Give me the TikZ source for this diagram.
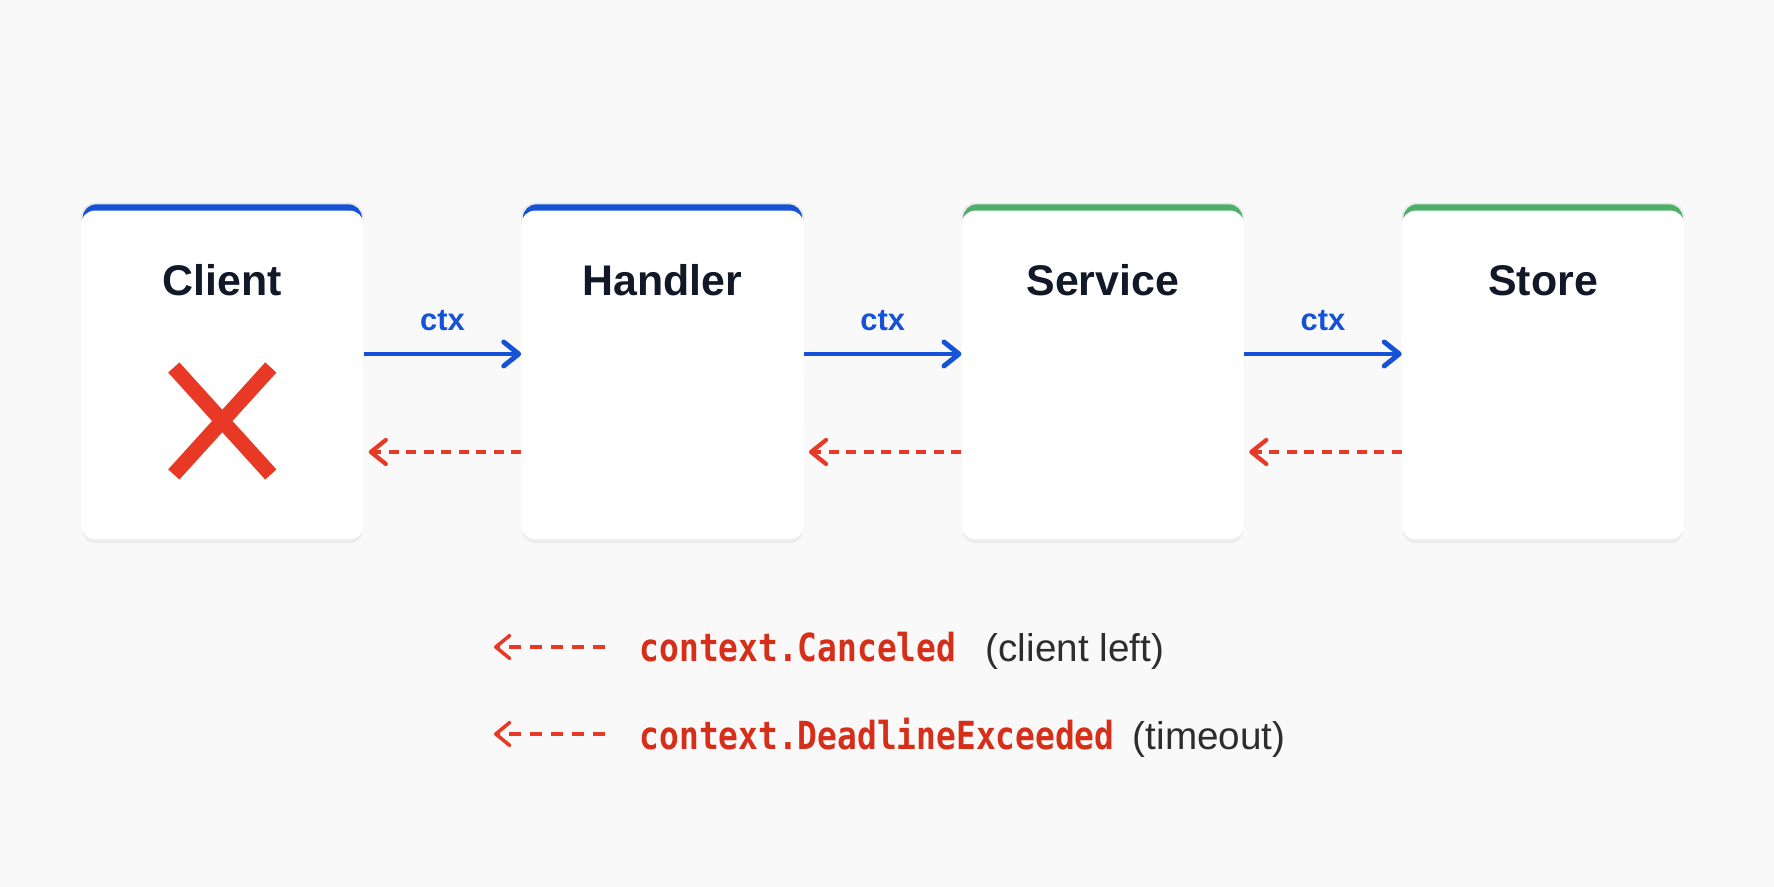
\documentclass[tikz,border=0pt]{standalone}
\usepackage{fontspec}
\setmainfont{Liberation Sans}
\newfontfamily\codefont[FakeStretch=0.85]{DejaVu Sans Mono}
\usepackage{tikz}
\usetikzlibrary{arrows.meta,positioning,shadows,calc}
\definecolor{ctxblue}{RGB}{22,82,214}
\definecolor{okgreen}{RGB}{78,176,104}
\definecolor{cancelred}{RGB}{232,56,38}
\definecolor{codered}{RGB}{214,46,24}
\definecolor{ink}{RGB}{17,24,39}
\definecolor{notegray}{RGB}{45,45,45}
\definecolor{paper}{RGB}{249,249,249}
\tikzset{
  card/.style={fill=#1,draw=black!9,line width=0.5pt,rounded corners=1.4mm,
               minimum width=2.81cm,minimum height=3.35cm,inner sep=0pt,
               drop shadow={shadow xshift=0pt,shadow yshift=-0.5mm,opacity=0.1}},
  boxtitle/.style={font=\fontsize{12.2}{14}\selectfont\bfseries,text=ink,
                   anchor=base,inner sep=0pt},
  ctxlbl/.style={font=\fontsize{8.8}{10}\selectfont\bfseries,text=ctxblue,inner sep=0pt},
  fwd/.style={-{Straight Barb[length=1.5mm,width=2.4mm,round]},draw=ctxblue,line width=1.4pt},
  cancelarr/.style={-{Straight Barb[length=1.5mm,width=2.4mm,round]},draw=cancelred,
                    line width=1.2pt,dash pattern=on 1mm off 0.75mm},
  keyarr/.style={-{Straight Barb[length=1.4mm,width=2.3mm,round]},draw=cancelred,
                 line width=1pt,dash pattern=on 1.2mm off 0.9mm},
  xmarkline/.style={draw=cancelred,line width=4.3pt},
  errname/.style={font=\codefont\fontsize{11}{13}\selectfont\bfseries,text=codered,
                  inner sep=0pt,anchor=west},
  why/.style={font=\fontsize{11}{13}\selectfont,text=notegray,inner sep=0pt,anchor=base west},
}
% white face below the coloured top edge of a card
\newcommand{\cardface}[1]{%
  \fill[white,rounded corners=1.4mm] (#1.south west) rectangle ([yshift=-0.08cm]#1.north east);}

\begin{document}
\begin{tikzpicture}[node distance=1.575cm]
  \fill[paper] (0,0) rectangle (17.74,8.87);
  \useasboundingbox (0,0) rectangle (17.74,8.87);

  % call chain
  \node[card=ctxblue] (client) at (2.223,5.16) {};
  \node[card=ctxblue,right=of client] (handler) {};
  \node[card=okgreen,right=of handler] (service) {};
  \node[card=okgreen,right=of service] (store) {};
  \foreach \n/\t in {client/Client,handler/Handler,service/Service,store/Store} {
    \cardface{\n}
    \node[boxtitle] (\n-t) at ([yshift=-0.93cm]\n.north) {\t};
  }

  % ctx goes down, cancellation comes back
  \foreach \a/\b in {client/handler,handler/service,service/store} {
    \draw[fwd] ([yshift=0.17cm]\a.east) -- node[ctxlbl,above=0.21cm] (\a-ctx) {ctx}
      ([yshift=0.17cm]\b.west);
    \draw[cancelarr] ([yshift=-0.81cm]\b.west) -- ([xshift=0.05cm,yshift=-0.81cm]\a.east);
  }

  % client is gone
  \coordinate (xmark) at ([yshift=-0.50cm]client.center);
  \draw[xmarkline] ([shift={(-0.485,0.535)}]xmark) -- ([shift={(0.485,-0.535)}]xmark)
                   ([shift={(-0.485,-0.535)}]xmark) -- ([shift={(0.485,0.535)}]xmark);

  % legend
  \node[errname] (canceled) at (6.39,2.40) {context.Canceled};
  \node[why] (canceled-why) at ([xshift=0.28cm]canceled.base east) {(client left)};
  \node[errname] (deadline) at (6.39,1.53) {context.DeadlineExceeded};
  \node[why] (deadline-why) at ([xshift=0.17cm]deadline.base east) {(timeout)};
  \coordinate (canceled-tip) at (4.94,2.40);
  \coordinate (deadline-tip) at (4.94,1.53);
  \draw[keyarr] ([xshift=-0.34cm]canceled.west) -- (canceled-tip);
  \draw[keyarr] ([xshift=-0.34cm]deadline.west) -- (deadline-tip);
\end{tikzpicture}
\end{document}
